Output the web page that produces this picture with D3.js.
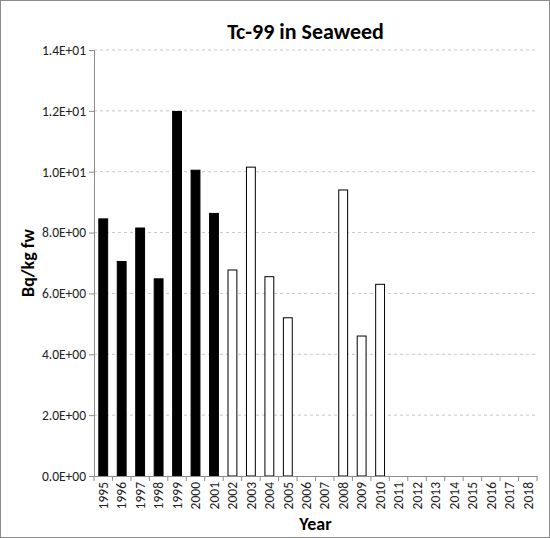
<!DOCTYPE html>
<html><head><meta charset="utf-8">
<script src="https://cdn.jsdelivr.net/npm/d3@7"></script>
<style>body{margin:0;background:#fff}svg{font-family:Carlito,"Open Sans",sans-serif}</style>
</head><body><div id="chart"></div>
<script>
const years = d3.range(1995, 2019).map(String);
const filledYears = ["1995","1996","1997","1998","1999","2000","2001"];
const values = {"1995":8.45,"1996":7.05,"1997":8.15,"1998":6.48,"1999":11.98,"2000":10.05,"2001":8.63,
  "2002":6.77,"2003":10.15,"2004":6.55,"2005":5.2,"2008":9.4,"2009":4.6,"2010":6.3};
const yTicks = [0,2,4,6,8,10,12,14];

const W = 550, H = 538;
const margin = {top: 50, right: 13, bottom: 62, left: 94};
const svg = d3.select("#chart").append("svg").attr("width", W).attr("height", H);
svg.append("rect").attr("x",0.5).attr("y",0.5).attr("width",W-1).attr("height",H-1)
  .attr("fill","#fff").attr("stroke","#8c8c8c");

const x = d3.scaleBand().domain(years).range([margin.left, W - margin.right]).paddingInner(0.52).paddingOuter(0.26);
const y = d3.scaleLinear().domain([0,14]).range([H - margin.bottom, margin.top]);

// grid
svg.append("g").selectAll("line").data(yTicks.slice(1)).join("line")
  .attr("x1", margin.left).attr("x2", W - margin.right)
  .attr("y1", d => y(d)).attr("y2", d => y(d))
  .attr("stroke", "#c8c8c8").attr("stroke-dasharray", "3,3");

const data = years.filter(k => values[k] != null).map(k => ({year:k, v:values[k]}));
svg.append("g").selectAll("rect").data(data).join("rect")
  .attr("x", d => x(d.year)).attr("width", x.bandwidth())
  .attr("y", d => y(d.v)).attr("height", d => y(0) - y(d.v))
  .attr("fill", d => filledYears.includes(d.year) ? "#000" : "#fff")
  .attr("stroke", "#000").attr("stroke-width", 1);

const yAxis = svg.append("g").attr("transform", `translate(${margin.left},0)`)
  .call(d3.axisLeft(y).tickValues(yTicks).tickSize(5));
yAxis.selectAll("text").text(d => d >= 10 ? (d/10).toFixed(1) + "E+01" : d.toFixed(1) + "E+00");
const xAxis = svg.append("g").attr("transform", `translate(0,${y(0)})`)
  .call(d3.axisBottom(x).tickSize(0));
// ticks between categories
xAxis.selectAll(".sep").data(d3.range(years.length + 1)).join("line")
  .attr("x1", i => margin.left + i * (W - margin.right - margin.left) / years.length)
  .attr("x2", i => margin.left + i * (W - margin.right - margin.left) / years.length)
  .attr("y1", 0).attr("y2", 5).attr("stroke", "#8c8c8c");
xAxis.selectAll(".tick text").attr("transform", "rotate(-90)")
  .attr("text-anchor", "end").attr("x", -6).attr("y", 0).attr("dy", "0.35em");
svg.selectAll(".domain").attr("stroke", "#8c8c8c");
svg.selectAll(".tick line").attr("stroke", "#8c8c8c");
svg.selectAll(".tick text").attr("font-size", 13.5).attr("font-family", "Carlito,'Open Sans',sans-serif").attr("fill", "#222");

svg.append("text").attr("x", (margin.left + W - margin.right)/2 - 10).attr("y", 39)
  .attr("text-anchor", "middle").attr("font-size", 22).attr("font-weight", "bold").text("Tc-99 in Seaweed");
svg.append("text").attr("x", (margin.left + W - margin.right)/2).attr("y", 530)
  .attr("text-anchor", "middle").attr("font-size", 18).attr("font-weight", "bold").text("Year");
svg.append("text").attr("transform", `translate(34,${(margin.top + H - margin.bottom)/2}) rotate(-90)`)
  .attr("text-anchor", "middle").attr("font-size", 18).attr("font-weight", "bold").text("Bq/kg fw");
</script></body></html>
